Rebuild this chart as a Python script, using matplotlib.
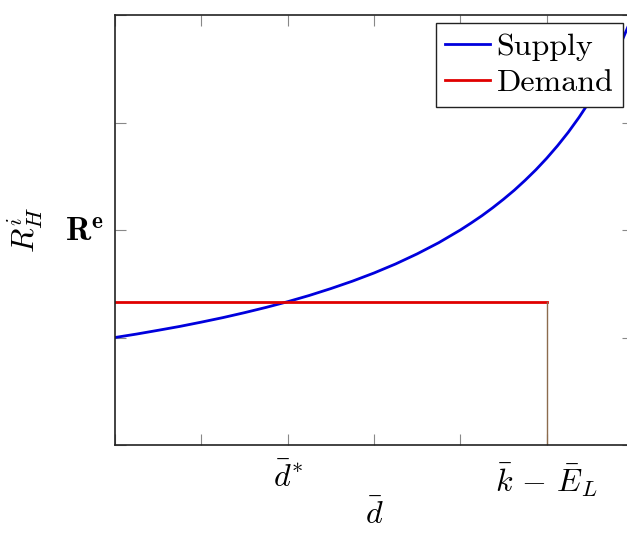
import matplotlib
matplotlib.use("Agg")
import matplotlib.pyplot as plt

plt.rcParams['mathtext.fontset'] = 'cm'
plt.rcParams['font.family'] = 'serif'
plt.rcParams['font.serif'] = ['cmr10']
plt.rcParams['axes.unicode_minus'] = False

# Data
supply_x = [0, 0.25, 0.5, 0.75, 1.0, 1.25, 1.5, 1.75, 2.0, 2.25, 2.5, 2.75, 3.0,
            3.25, 3.5, 3.75, 4.0, 4.125, 4.25, 4.375, 4.5, 4.625, 4.75, 4.875,
            5.0, 5.125, 5.25, 5.375, 5.5, 5.625, 5.75, 5.875, 6.0]
supply_y = [1.000, 1.032, 1.067, 1.103, 1.143, 1.185, 1.231, 1.280, 1.333, 1.391,
            1.455, 1.524, 1.600, 1.684, 1.778, 1.882, 2.000, 2.065, 2.133, 2.207,
            2.286, 2.370, 2.462, 2.560, 2.667, 2.783, 2.909, 3.048, 3.200, 3.368,
            3.556, 3.765, 4.000]
demand_x = [0, 5]
demand_y = [1.333, 1.333]
cap_x = [5, 5]
cap_y = [0, 1.333]

xticks = [0, 1, 2, 3, 4, 5, 6]
xticklabels = ['', '', r'$\bar{d}^{*}$', '', '', r'$\bar{k}\,-\,\bar{E}_L$', '']
yticks = [0, 1, 2, 3, 4]
yticklabels = ['', '', r'$\mathbf{R}^{\mathbf{e}}$', '', '']

fig = plt.figure(figsize=(6.27, 5.34), dpi=100)
ax = fig.add_axes([115/627, 1-445/534, 518/627, 430/534])

ax.plot(supply_x, supply_y, color='#0000dd', lw=2.0, label='Supply')
ax.plot(demand_x, demand_y, color='#e00000', lw=2.0, label='Demand')
ax.plot(cap_x, cap_y, color=(0.55, 0.42, 0.3), lw=1.0)

ax.set_xlim(0, 6)
ax.set_ylim(0, 4)
ax.set_xticks(xticks)
ax.set_xticklabels(xticklabels, fontsize=23)
ax.set_yticks(yticks)
ax.set_yticklabels(yticklabels, fontsize=24)
ax.tick_params(direction='in', length=8, width=0.8, color='#888888',
               top=True, right=True)
ax.tick_params(axis='x', pad=12)
ax.tick_params(axis='y', pad=8)

for s in ax.spines.values():
    s.set_linewidth(1.2)
    s.set_color('#222222')

ax.set_xlabel(r'$\bar{d}$', fontsize=23, labelpad=0)
ax.set_ylabel(r'$R^i_H$', fontsize=23, labelpad=14)

leg = ax.legend(loc='upper right', bbox_to_anchor=(623/627, 1-23/534),
                bbox_transform=fig.transFigure, borderaxespad=0,
                fancybox=False, framealpha=1, edgecolor='#222222',
                fontsize=23, handlelength=1.4, handletextpad=0.2,
                borderpad=0.3, labelspacing=0.25)
leg.get_frame().set_linewidth(1.0)

fig.savefig('out.png', dpi=100)
